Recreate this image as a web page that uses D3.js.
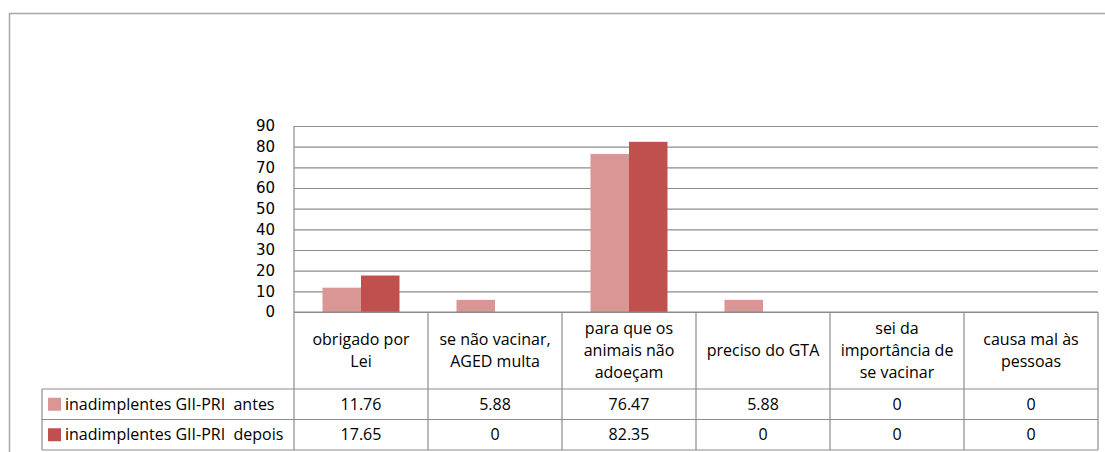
<!DOCTYPE html>
<html>
<head>
<meta charset="utf-8">
<script src="https://cdn.jsdelivr.net/npm/d3@7"></script>
<style>
  body { margin: 0; background: #fff; }
  svg text { fill: #000; }
  .tbl text { font-family: "Open Sans", Lato, sans-serif; font-size: 16px; white-space: pre; }
  .ylab { font-family: "DejaVu Sans", Verdana, sans-serif; font-size: 15px; }
</style>
</head>
<body>
<div class="chart"></div>
<script>
// categories, wrapped as in the original table header
var categoryLines = [
  ["obrigado por", "Lei"],
  ["se não vacinar,", "AGED multa"],
  ["para que os", "animais não", "adoeçam"],
  ["preciso do GTA"],
  ["sei da", "importância de", "se vacinar"],
  ["causa mal às", "pessoas"]
];
var categories = categoryLines.map(function (l) { return l.join(" "); });

var seriesNames = ["inadimplentes GII-PRI  antes", "inadimplentes GII-PRI  depois"];
var antes = [11.76, 5.88, 76.47, 5.88, 0, 0];
var depois = [17.65, 0, 82.35, 0, 0, 0];
var valueLabels = [
  ["11.76", "5.88", "76.47", "5.88", "0", "0"],
  ["17.65", "0", "82.35", "0", "0", "0"]
];
var yTicks = [0, 10, 20, 30, 40, 50, 60, 70, 80, 90];
var colors = ["#D99694", "#C0504D"];

function drawChart() {
  var width = 1105;
  var height = 452;
  var lineCol = "#8c8c8c";

  var svg = d3.select(".chart").append("svg")
    .attr("width", width)
    .attr("height", height);

  // outer chart frame (runs off the right and bottom edge)
  svg.append("rect")
    .attr("x", 9.5).attr("y", 13.5)
    .attr("width", 1120).attr("height", 460)
    .attr("fill", "none")
    .attr("stroke", "#a6a6a6")
    .attr("stroke-width", 1.5);

  var left = 294, right = 1098, top = 126, zero = 312;
  var row1 = 389, row2 = 419.5, bottom = 450, legendLeft = 42;

  var x0 = d3.scaleBand().domain(categories).range([left, right]).padding(0);
  var x1 = d3.scaleBand().domain(seriesNames).range([28.5, 105.5]);
  var y = d3.scaleLinear().domain([0, 90]).range([zero, top]);

  // gridlines
  var grid = svg.append("g")
    .attr("transform", "translate(" + left + ",0)")
    .call(d3.axisLeft(y).tickValues(yTicks).tickSize(-(right - left)).tickFormat(""));
  grid.select(".domain").remove();
  grid.selectAll("line").attr("stroke", lineCol).attr("stroke-width", 1.2);

  // y axis line
  svg.append("line")
    .attr("x1", left).attr("x2", left)
    .attr("y1", top).attr("y2", zero)
    .attr("stroke", lineCol).attr("stroke-width", 1.2);

  // y labels
  var yl = svg.append("g")
    .attr("transform", "translate(" + (left - 19) + ",0)")
    .call(d3.axisLeft(y).tickValues(yTicks).tickSize(0).tickPadding(0));
  yl.select(".domain").remove();
  yl.selectAll("text").attr("class", "ylab").attr("fill", "#000");

  // bars
  var data = [antes, depois];
  var groups = svg.append("g").selectAll("g")
    .data(categories)
    .enter().append("g")
    .attr("transform", function (d) { return "translate(" + x0(d) + ",0)"; });

  groups.selectAll("rect")
    .data(function (d, i) {
      return seriesNames.map(function (s, k) { return { s: s, k: k, v: data[k][i] }; });
    })
    .enter().append("rect")
    .attr("x", function (d) { return x1(d.s); })
    .attr("y", function (d) { return y(d.v); })
    .attr("width", x1.bandwidth())
    .attr("height", function (d) { return zero - y(d.v); })
    .attr("fill", function (d) { return colors[d.k]; });

  // data table
  var tbl = svg.append("g").attr("class", "tbl");
  var hlines = [
    [left, zero], [legendLeft, row1], [legendLeft, row2], [legendLeft, bottom]
  ];
  hlines.forEach(function (h) {
    tbl.append("line")
      .attr("x1", h[0]).attr("x2", right)
      .attr("y1", h[1]).attr("y2", h[1])
      .attr("stroke", lineCol).attr("stroke-width", 1.2);
  });
  var vx = categories.map(function (c) { return x0(c); }).concat([right]);
  vx.forEach(function (v) {
    tbl.append("line")
      .attr("x1", v).attr("x2", v)
      .attr("y1", zero).attr("y2", bottom)
      .attr("stroke", lineCol).attr("stroke-width", 1.2);
  });
  tbl.append("line")
    .attr("x1", legendLeft).attr("x2", legendLeft)
    .attr("y1", row1).attr("y2", bottom)
    .attr("stroke", lineCol).attr("stroke-width", 1.2);

  // header labels
  var lh = 22;
  categoryLines.forEach(function (lines, i) {
    var cx = x0(categories[i]) + x0.bandwidth() / 2;
    var cy = (zero + row1) / 2 - (lines.length - 1) * lh / 2;
    lines.forEach(function (t, j) {
      tbl.append("text")
        .attr("x", cx).attr("y", cy + j * lh)
        .attr("dy", "0.35em")
        .attr("text-anchor", "middle")
        .text(t);
    });
  });

  // value rows
  var rowMid = [(row1 + row2) / 2, (row2 + bottom) / 2];
  valueLabels.forEach(function (vals, k) {
    vals.forEach(function (t, i) {
      tbl.append("text")
        .attr("x", x0(categories[i]) + x0.bandwidth() / 2)
        .attr("y", rowMid[k])
        .attr("dy", "0.35em")
        .attr("text-anchor", "middle")
        .text(t);
    });
    tbl.append("rect")
      .attr("x", 48).attr("y", rowMid[k] - 6.5)
      .attr("width", 13).attr("height", 13)
      .attr("fill", colors[k]);
    tbl.append("text")
      .attr("x", 65).attr("y", rowMid[k])
      .attr("dy", "0.35em")
      .text(seriesNames[k]);
  });
}

drawChart();
</script>
</body>
</html>
